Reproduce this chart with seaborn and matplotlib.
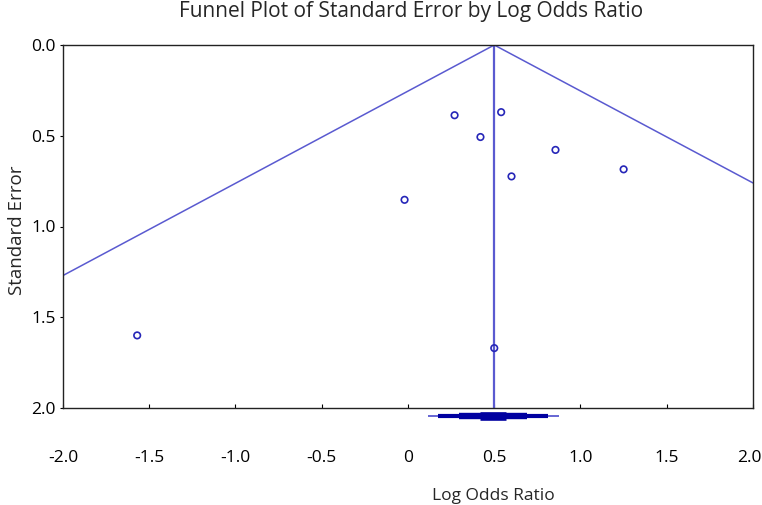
import matplotlib
matplotlib.use("Agg")
import matplotlib.pyplot as plt
import matplotlib.transforms as mtransforms
import seaborn as sns
import pandas as pd

# ---- data ----
log_odds = [-1.57, 0.50, 0.27, 0.42, 0.54, 0.855, 0.60, 1.25, -0.02]
std_err = [1.60, 1.67, 0.387, 0.507, 0.370, 0.578, 0.724, 0.685, 0.853]

pooled_estimate = 0.50
funnel_x = [-2.0, 0.50, 2.0]
funnel_se = [1.27, 0.0, 0.76]

# stepped summary diamond (lower, upper) from thin to thick
diamond_lower = [0.115, 0.176, 0.297, 0.415]
diamond_upper = [0.874, 0.812, 0.690, 0.570]
diamond_se = 2.043

x_ticks = [-2.0, -1.5, -1.0, -0.5, 0.0, 0.5, 1.0, 1.5, 2.0]
x_tick_labels = ["-2.0", "-1.5", "-1.0", "-0.5", "0", "0.5", "1.0", "1.5", "2.0"]
y_ticks = [0.0, 0.5, 1.0, 1.5, 2.0]
y_tick_labels = ["0.0", "0.5", "1.0", "1.5", "2.0"]

title = "Funnel Plot of Standard Error by Log Odds Ratio"
x_label = "Log Odds Ratio"
y_label = "Standard Error"

# ---- styling ----
sns.set_style("ticks")
plt.rcParams["font.family"] = ["Open Sans", "DejaVu Sans"]

line_col = "#5a5ad0"
point_col = "#2626b8"
dark_col = "#0000a0"

fig = plt.figure(figsize=(7.62, 5.05), dpi=100)
ax = fig.add_axes([63 / 762, 1 - 408 / 505, 690 / 762, 363 / 505])

df_pts = pd.DataFrame({"x": log_odds, "se": std_err})
df_fun = pd.DataFrame({"x": funnel_x, "se": funnel_se})

sns.lineplot(data=df_fun, x="x", y="se", sort=False, color=line_col,
             linewidth=1.1, ax=ax, estimator=None)
ax.axvline(pooled_estimate, color=line_col, linewidth=1.6, zorder=2)
sns.scatterplot(data=df_pts, x="x", y="se", ax=ax, marker="o", s=22,
                facecolor="none", edgecolor=point_col, linewidth=1.2, zorder=3)

# stepped diamond below axis
widths = [1.3, 3.0, 4.6, 6.2]
colors = [line_col, dark_col, dark_col, dark_col]
for lo, hi, w, c in zip(diamond_lower, diamond_upper, widths, colors):
    ax.plot([lo, hi], [diamond_se, diamond_se], color=c, linewidth=w,
            solid_capstyle="butt", clip_on=False, zorder=4)

ax.set_xlim(-2.0, 2.0)
ax.set_ylim(2.0, 0.0)
ax.set_xticks(x_ticks)
ax.set_xticklabels(x_tick_labels)
ax.set_yticks(y_ticks)
ax.set_yticklabels(y_tick_labels)

ax.tick_params(axis="x", direction="in", length=3, width=0.8, pad=30,
               labelsize=12.5, colors="black")
ax.tick_params(axis="y", direction="out", length=2, width=0.8, pad=3,
               labelsize=12.5, colors="black")
for s in ax.spines.values():
    s.set_color("#222222")
    s.set_linewidth(1.0)

# keep the last x tick label inside the canvas
last = ax.get_xticklabels()[-1]
last.set_transform(last.get_transform() +
                   mtransforms.ScaledTranslation(-4 / 100, 0, fig.dpi_scale_trans))

ax.set_xlabel(x_label, fontsize=12.5)
ax.xaxis.set_label_coords((493 - 63) / 690, (408 - 496) / 363)
ax.xaxis.label.set_va("center")
ax.set_ylabel(y_label, fontsize=13.5)
ax.yaxis.set_label_coords((17 - 63) / 690, 0.49)
ax.yaxis.label.set_va("center")

fig.text(411 / 762, 1 - 12 / 505, title, ha="center", va="center", fontsize=15)

fig.savefig("out.png", dpi=100)
